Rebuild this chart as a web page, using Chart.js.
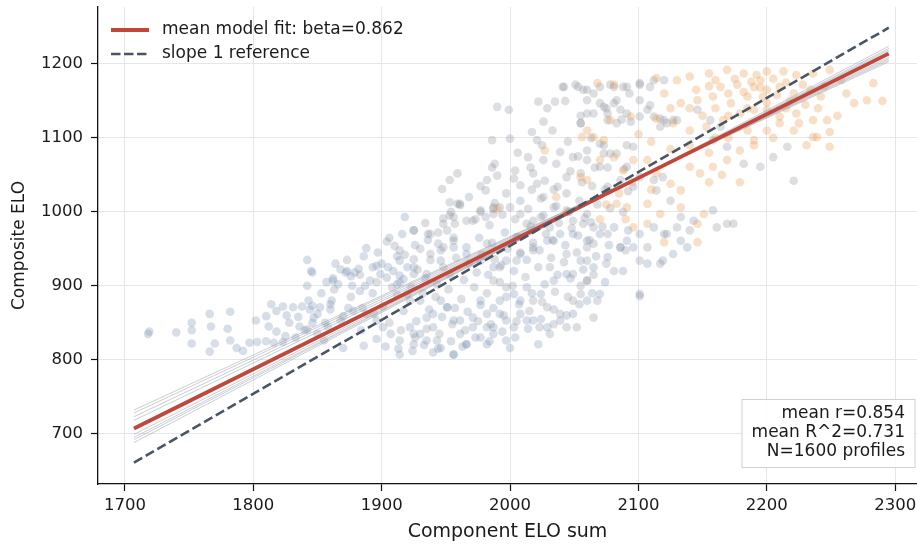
<!DOCTYPE html>
<html>
<head>
<meta charset="utf-8">
<script src="https://cdn.jsdelivr.net/npm/chart.js@4.4.1/dist/chart.umd.min.js"></script>
<style>
  html, body { margin: 0; padding: 0; background: #fff; }
  #wrap { width: 917px; height: 546px; }
</style>
</head>
<body>
<div id="wrap"><canvas id="chart" width="917" height="546"></canvas></div>
<script>
// Profiles: [component ELO sum, composite ELO]
const bluePoints = [
  [1718,835],[1719,838],[1740,837],[1752,850],[1752,840],[1752,822],[1766,862],[1767,845],[1770,822],[1766,811],
  [1782,865],[1780,842],[1782,826],[1787,816],[1792,812],[1797,823],[1803,824],[1810,825],[1816,823],[1823,824],
  [1802,853],[1810,859],[1814,875],[1818,866],[1823,872],[1831,871],[1838,872],[1844,868],[1812,845],[1818,838],
  [1825,832],[1833,830],[1840,840],[1846,850],[1850,835],[1855,826],[1842,935],[1845,920],[1846,918],[1842,900],
  [1857,905],[1862,910],[1868,922],[1872,918],[1876,913],[1888,951],[1893,925],[1900,930],[1906,965],[1912,940],
  [1918,993],[1925,975],
  [1828,850],[1835,858],[1843,880],[1850,862],[1858,845],[1853,890],[1860,868],[1836,845],[1826,860],
  [1846,873],[1852,871],[1860,875],[1847,857],[1842,841],[1856,850],[1868,853],[1870,859],[1878,866],[1862,907],
  [1866,902],[1873,920],[1879,918],[1882,923],[1883,893],[1891,907],[1896,927],[1899,916],[1904,911],[1909,920],
  [1914,914],[1912,902],[1917,909],[1920,925],[1925,916],
  [1888,862],[1896,853],[1901,844],[1907,835],[1914,826],[1922,844],[1925,821],[1930,835],[1935,857],[1940,844],
  [1943,826],[1946,880],[1951,871],[1956,853],[1961,835],[1966,821],[1971,857],[1977,880],[1982,844],[1987,835],
  [1992,862],[1997,826],[2003,844],[2008,880],[2013,853],
  [1886,819],[1870,816],[1914,807],[1940,810],[1956,807],[1982,821],[2000,816],[2022,821],
  [1914,934],[1925,925],[1935,916],[1946,934],[1956,952],[1966,943],[1977,934],[1987,925],[1997,934],[2008,943],
  [2018,952],[2029,961],[2039,970],[2049,970],[2060,961],[2070,970],[2081,979],[2091,961],[2101,970],[2112,979],
  [2122,970],[2133,961],[2143,988],
  [1920,889],[1930,880],[1940,862],[1951,871],[1961,853],[1971,844],[1982,862],[1992,880],[2003,889],[2013,898],
  [2024,889],[2034,907],[2044,916],[2055,934],[2065,925],[2076,939],[2086,952],[2096,952],[2107,930],[2119,934],
  [2127,943],[2138,952],
  [1925,835],[1935,826],[1946,816],[1956,807],[1966,821],[1977,830],[1987,844],[1997,853],[2008,862],[2018,853],
  [2029,844],[2039,853],[2049,862],[2060,880],[2070,889],[2101,889],
  [1861,880],[1864,930],[1874,870],[1877,900],[1884,840],[1887,900],[1886,940],[1896,828],[1893,890],[1897,945],
  [1903,818],[1901,872],[1905,925],[1913,815],[1917,866],[1914,905],[1916,970],[1924,812],[1927,852],[1923,898],
  [1926,955],[1933,820],[1937,868],[1934,910],[1936,962],[1944,815],[1947,858],[1943,902],[1946,948],[1954,825],
  [1957,870],[1953,915],[1956,965],[1963,818],[1967,865],[1964,908],[1966,952],[1968,1020],[1973,830],[1977,874],
  [1974,918],[1976,965],[1984,825],[1987,870],[1983,915],[1986,958],[1988,1012],[1994,838],[1997,885],[1993,928],
  [1996,972],[2004,830],[2007,875],[2003,920],[2006,966],[2008,1015],[2014,842],[2017,890],[2013,935],[2016,980],
  [2024,855],[2027,902],[2023,948],[2026,995],[2034,868],[2037,915],[2033,962],[2036,1008],[2044,860],[2047,910],
  [2043,955],[2046,1000],[2054,875],[2057,922],[2053,968],[2064,890],[2067,940],[2063,986],[2074,905],[2077,955],
  [2088,920],[2092,975]
];

const grayPoints = [
  [1910,954],[1914,948],[1925,936],[1930,950],[1938,943],[1936,970],[1944,957],[1948,952],[1956,961],[1951,975],
  [1957,984],[1948,991],[1953,995],[1959,1011],[1961,1009],[1971,988],[1977,1000],[1981,993],[1987,1004],[1992,1006],
  [2018,880],[2023,844],[2029,871],[2034,848],[2039,862],[2044,844],[2049,880],[2055,889],[2060,907],[2065,857],
  [1987,907],[1997,898],[1992,925],[2005,934],[2018,948],[2031,925],[2044,943],[2049,916],[2060,934],[2065,957],
  [2034,961],[2018,988],[2031,979],[2049,988],[2060,997],[2005,966],[1982,957],[2052,844],[2031,835],
  [2041,1169],[2051,1172],[2060,1165],[2081,1169],[2091,1169],[2101,1172],[2112,1178],
  [1990,1142],[1999,1138],[2022,1149],[2035,1149],[2026,1122],[2029,1140],
  [2055,1120],[2060,1133],[2070,1147],[2076,1133],[2083,1120],[2094,1122],[2101,1129],[2107,1138],[2117,1126],
  [2122,1120],[2130,1124],
  [2017,1108],[2021,1097],[2000,1099],[1986,1097],[2014,1074],[2026,1070],[2039,1081],[2049,1074],[2060,1070],
  [2073,1079],[2083,1079],[2096,1088],
  [1982,1043],[1990,1049],[1988,1065],[2004,1056],[2018,1052],[2021,1038],[2008,1036],[2037,1034],[2026,1020],
  [2044,1047],[2055,1052],[2070,1061],[2076,1034],[2086,1043],[2096,1034],[2112,1043],[2119,1047],
  [1947,1031],[1953,1043],[1959,1052],[1961,1011],[1953,1013],[1981,1029],[1987,1006],
  [1925,975],[1938,970],[1948,984],[1956,993],[1966,988],[1977,1002],[1987,997],[2000,1006],[2008,997],[2013,984],
  [2024,993],[2034,1006],[2044,1002],
  [2057,1165],[2070,1169],[2078,1172],[2088,1169],[2101,1174],[2109,1169],[2120,1178],[2081,1147],[2091,1133],
  [2101,1151],[2109,1144],[2120,1124],[2127,1124],[2146,1138],[2156,1124],[2164,1115],[2158,1097],[2169,1088],
  [2182,1065],[2195,1061],[2205,1074],[2216,1088],[2221,1042],[2060,1083],[2070,1092],[2078,1079],[2091,1061],
  [2101,1047],[2114,1029],[2125,1015],[2133,993],[2140,975],[2158,1002],[2169,984],[2174,984],[2161,979],
  [2130,979],[2120,970],[2107,952],[2117,930],[2101,934],[2086,952],[2076,970],[2065,979],[2057,984],[2060,952],
  [2081,920],[2101,886],[2068,880],[2060,907],
  [2042,1169],[2053,1169],[2060,1151],[2073,1142],[2083,1151],[2065,1133],[2055,1120],[2076,1124],[2086,1138],
  [2112,1129],[2117,1115],
  [1863,895],[1876,885],[1873,935],[1885,870],[1883,915],[1894,862],[1896,905],[1906,850],[1908,898],[1904,960],
  [1915,840],[1912,888],[1918,942],[1926,830],[1922,880],[1928,922],[1935,842],[1932,890],[1938,935],[1934,985],
  [1945,835],[1942,885],[1948,925],[1944,972],[1955,848],[1952,895],[1958,938],[1954,1000],[1965,840],[1962,882],
  [1968,930],[1975,852],[1972,898],[1978,942],[1973,990],[1977,1035],[1985,848],[1982,890],[1988,936],[1984,982],
  [1986,1060],[1995,860],[1992,905],[1998,950],[1994,996],[1997,1025],[2005,852],[2002,900],[2008,945],[2004,990],
  [2003,1045],[2006,1080],[2015,866],[2012,912],[2018,958],[2014,1004],[2017,1030],[2016,1060],[2025,878],[2022,925],
  [2028,970],[2024,1018],[2027,1042],[2025,1090],[2035,892],[2032,938],[2038,985],[2034,1030],[2036,1065],[2033,1110],
  [2045,885],[2042,932],[2048,978],[2044,1025],[2047,1055],[2045,1095],[2043,1150],[2055,900],[2052,945],[2058,992],
  [2054,1015],[2056,1040],[2053,1075],[2055,1130],[2065,915],[2062,962],[2068,1010],[2064,1035],[2066,1060],[2063,1100],
  [2065,1160],[2075,930],[2072,980],[2078,1005],[2074,1030],[2076,1060],[2073,1090],[2075,1140],[2090,948],[2088,1000],
  [2092,1028],[2089,1058],[2091,1090],[2087,1125],[2093,1160]
];

const orangePoints = [
  [2068,1174],[2081,1172],[2114,1181],[2130,1178],[2140,1183],[2155,1187],[2169,1192],[2182,1187],[2192,1185],
  [2200,1190],[2213,1190],[2223,1185],[2236,1187],[2249,1192],[2268,1147],[2278,1151],[2283,1174],
  [2164,1169],[2177,1172],[2190,1169],[2200,1165],[2210,1169],[2221,1160],[2234,1165],[2242,1156],[2247,1124],
  [2249,1108],[2249,1088],[2231,1090],[2236,1101],[2221,1110],[2210,1120],[2200,1110],[2190,1097],[2179,1083],
  [2169,1070],[2158,1061],[2148,1052],[2140,1061],[2133,1029],[2125,1038],[2114,1052],[2107,1070],[2096,1070],
  [2088,1056],[2081,1074],[2070,1070],[2060,1043],[2117,997],[2133,1006],[2146,984],[2151,997],[2146,959],
  [2120,959],[2107,984],[2096,979],[2091,1006],[2083,1011],[2107,1011],[2065,1101],[2060,1110],[2078,1124],
  [2094,1129],[2114,1126],[2127,1120],[2140,1110],[2153,1115],[2166,1124],[2179,1133],[2190,1138],[2200,1138],
  [2210,1129],[2223,1133],[2236,1124],[2133,1147],[2146,1151],[2158,1156],[2172,1147],[2185,1156],[2197,1156],
  [2239,1101],[2179,1040],
  [2160,1178],[2175,1180],[2188,1176],[2195,1178],[2205,1180],[2215,1175],[2228,1172],[2170,1160],[2182,1162],
  [2195,1168],[2208,1158],[2218,1150],[2230,1145],[2185,1140],[2200,1148],[2215,1140],[2160,1140],[2170,1130],
  [2150,1130],[2140,1140],[2125,1140],[2120,1160],[2145,1165],[2155,1170],[2100,1105],[2110,1095],[2125,1085],
  [2140,1090],[2155,1080],[2170,1100],[2185,1110],[2160,1100],[2095,1040],[2110,1030],[2085,1025],[2075,1010],
  [2070,990],[2090,990],[2155,1040],[2165,1050],[2190,1090],[2205,1100],[2225,1120],[2240,1140],[2255,1130],
  [2262,1160],[2245,1170],[2258,1178],[2290,1150],
  [2027,1083],[2036,1020],[2056,1101],[2073,1097],[2055,1047],[1990,1004],[2045,1000]
];

// Fitted lines: endpoints on the x range of the data
const fitX = [1707, 2295];
const meanFitY = [707, 1214];
const slopeOneY = [661, 1249];
const bootstrapStartY = [732, 728, 723, 718, 699, 695, 692, 688];
const bootstrapEndY = [1203, 1205, 1207, 1209, 1217, 1219, 1221, 1224];

const xTicks = [1700, 1800, 1900, 2000, 2100, 2200, 2300];
const yTicks = [700, 800, 900, 1000, 1100, 1200];

const statLines = ['mean r=0.854', 'mean R^2=0.731', 'N=1600 profiles'];

const FONT = '"DejaVu Sans", "Liberation Sans", sans-serif';
const FIT_COLOR = '#c0473a';
const REF_COLOR = '#4a5564';

const toXY = pts => pts.map(p => ({ x: p[0], y: p[1] }));
const segment = (y0, y1) => [{ x: fitX[0], y: y0 }, { x: fitX[1], y: y1 }];

const datasets = [];

datasets.push({
  label: 'slope 1 reference',
  data: segment(slopeOneY[0], slopeOneY[1]),
  showLine: true,
  borderColor: REF_COLOR,
  borderWidth: 2.6,
  borderDash: [9.5, 4],
  pointRadius: 0,
  order: 0
});
datasets.push({
  label: 'mean model fit: beta=0.862',
  data: segment(meanFitY[0], meanFitY[1]),
  showLine: true,
  borderColor: FIT_COLOR,
  borderWidth: 3.8,
  pointRadius: 0,
  order: 1
});
bootstrapStartY.forEach((y0, i) => {
  datasets.push({
    label: 'fold ' + (i + 1),
    data: segment(y0, bootstrapEndY[i]),
    showLine: true,
    borderColor: 'rgba(150, 156, 166, 0.5)',
    borderWidth: 1,
    pointRadius: 0,
    order: 2
  });
});

const scatterStyle = (pts, color) => ({
  data: toXY(pts),
  showLine: false,
  pointRadius: 4.3,
  pointBorderWidth: 0,
  pointBackgroundColor: color,
  backgroundColor: color,
  borderWidth: 0,
  order: 3
});
datasets.push(Object.assign({ label: 'orange' }, scatterStyle(orangePoints, 'rgba(232, 152, 72, 0.3)')));
datasets.push(Object.assign({ label: 'gray' }, scatterStyle(grayPoints, 'rgba(140, 146, 154, 0.3)')));
datasets.push(Object.assign({ label: 'blue' }, scatterStyle(bluePoints, 'rgba(122, 145, 180, 0.3)')));

// Legend (top left) and stats box (bottom right), drawn matplotlib-style
const annotations = {
  id: 'annotations',
  afterDraw(chart) {
    const ctx = chart.ctx;
    ctx.save();
    ctx.font = '17px ' + FONT;
    ctx.textBaseline = 'middle';
    ctx.fillStyle = '#1a1a1a';

    ctx.lineCap = 'butt';
    ctx.strokeStyle = FIT_COLOR;
    ctx.lineWidth = 3.8;
    ctx.beginPath();
    ctx.moveTo(111, 30);
    ctx.lineTo(149, 30);
    ctx.stroke();
    ctx.fillText('mean model fit: beta=0.862', 162, 30);

    ctx.strokeStyle = REF_COLOR;
    ctx.lineWidth = 2.6;
    ctx.setLineDash([9.5, 3.5]);
    ctx.beginPath();
    ctx.moveTo(111, 54);
    ctx.lineTo(149, 54);
    ctx.stroke();
    ctx.setLineDash([]);
    ctx.fillText('slope 1 reference', 162, 54);

    ctx.fillStyle = 'rgba(255, 255, 255, 0.85)';
    ctx.fillRect(742, 399.5, 173, 68);
    ctx.strokeStyle = '#cdd2d9';
    ctx.lineWidth = 1;
    ctx.strokeRect(742, 399.5, 173, 68);
    ctx.fillStyle = '#1a1a1a';
    ctx.textAlign = 'right';
    statLines.forEach((t, i) => ctx.fillText(t, 905, 414 + i * 18.8));
    ctx.restore();
  }
};

// keep the plot area exactly where matplotlib put it
const noEdgePadding = s => {
  s.paddingTop = 0; s.paddingBottom = 0; s.paddingLeft = 0; s.paddingRight = 0;
};

const tickFont = { family: FONT, size: 16.5 };

new Chart(document.getElementById('chart'), {
  type: 'scatter',
  data: { datasets },
  options: {
    responsive: false,
    animation: false,
    devicePixelRatio: 1,
    layout: { autoPadding: false, padding: { top: 7, right: 0, bottom: 0, left: 0 } },
    plugins: { legend: { display: false }, tooltip: { enabled: false } },
    scales: {
      x: {
        type: 'linear',
        min: 1679,
        max: 2317,
        afterBuildTicks: s => { s.ticks = xTicks.map(v => ({ value: v })); },
        afterFit: s => { s.height = 62; noEdgePadding(s); },
        grid: { color: '#e3e6ec', lineWidth: 1, tickColor: '#111', tickLength: 7, tickWidth: 1.2 },
        border: { color: '#111', width: 1.3 },
        ticks: { font: tickFont, color: '#1a1a1a', padding: 5, maxRotation: 0, callback: v => String(v) },
        title: { display: true, text: 'Component ELO sum', font: { family: FONT, size: 19 }, color: '#1a1a1a', padding: { top: 0, bottom: 3 } }
      },
      y: {
        type: 'linear',
        min: 632,
        max: 1277,
        afterBuildTicks: s => { s.ticks = yTicks.map(v => ({ value: v })); },
        afterFit: s => { s.width = 98; noEdgePadding(s); },
        grid: { color: '#e3e6ec', lineWidth: 1, tickColor: '#111', tickLength: 7, tickWidth: 1.2 },
        border: { color: '#111', width: 1.3 },
        ticks: { font: tickFont, color: '#1a1a1a', padding: 8, callback: v => String(v) },
        title: { display: true, text: 'Composite ELO', font: { family: FONT, size: 17 }, color: '#1a1a1a', padding: { top: 9, bottom: 0 } }
      }
    }
  },
  plugins: [annotations]
});
</script>
</body>
</html>
